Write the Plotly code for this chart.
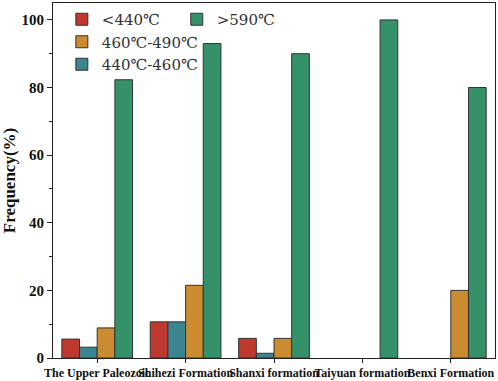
import plotly.graph_objects as go

categories = ["The Upper Paleozoic", "Shihezi Formation", "Shanxi formation",
              "Taiyuan formation", "Benxi Formation"]
lt440 = [5.6, 10.7, 5.8, None, None]
r440_460 = [3.2, 10.7, 1.4, None, None]
r460_490 = [8.9, 21.5, 5.8, None, 20.0]
gt590 = [82.3, 93.0, 90.0, 100.0, 80.0]

names = ["<440℃", "440℃-460℃", "460℃-490℃", ">590℃"]
colors = ["#C0392E", "#3A8590", "#CB8B31", "#35916A"]
series = [lt440, r440_460, r460_490, gt590]
legends = ["legend", "legend", "legend", "legend2"]
ranks = [1, 3, 2, 1]

fig = go.Figure()
for n, c, s, lg, rk in zip(names, colors, series, legends, ranks):
    fig.add_trace(go.Bar(x=categories, y=s, name=n, marker_color=c,
                         marker_line=dict(color="#333333", width=1),
                         legend=lg, legendrank=rk))

serif = "Liberation Serif"
lfont = dict(family="DejaVu Serif, Liberation Serif", size=15, color="#333333")
fig.update_layout(
    width=498, height=381,
    margin=dict(l=53, r=3, t=3, b=23),
    plot_bgcolor="white", paper_bgcolor="white",
    barmode="group", bargap=0.2, bargroupgap=0,
    font=dict(family=serif, color="#111111"),
    legend=dict(x=0.02, y=1.0, xanchor="left", yanchor="top",
                font=lfont, bgcolor="rgba(0,0,0,0)",
                tracegroupgap=0, traceorder="normal"),
    legend2=dict(x=0.28, y=1.0, xanchor="left", yanchor="top",
                 font=lfont, bgcolor="rgba(0,0,0,0)"),
)
fig.update_xaxes(
    showline=True, linecolor="#222222", linewidth=1, mirror=True,
    ticks="outside", ticklen=4, tickcolor="#222222", tickangle=0,
    tickfont=dict(family=serif, size=12, color="#111111", weight="bold"),
    range=[-0.5, 4.5], showgrid=False, automargin=False,
)
fig.update_yaxes(
    showline=True, linecolor="#222222", linewidth=1, mirror=True,
    ticks="outside", ticklen=5, tickcolor="#222222",
    tickfont=dict(family=serif, size=15, color="#111111", weight="bold"),
    range=[0, 105], dtick=20, showgrid=False, zeroline=False, automargin=False,
    minor=dict(dtick=10, ticks="outside", ticklen=3, tickcolor="#222222"),
    title=dict(text="Frequency(%)", font=dict(family=serif, size=17, weight="bold"),
               standoff=6),
)
fig.write_html("out.html", config={"displayModeBar": False},
               post_script="document.body.style.margin='0px';")
